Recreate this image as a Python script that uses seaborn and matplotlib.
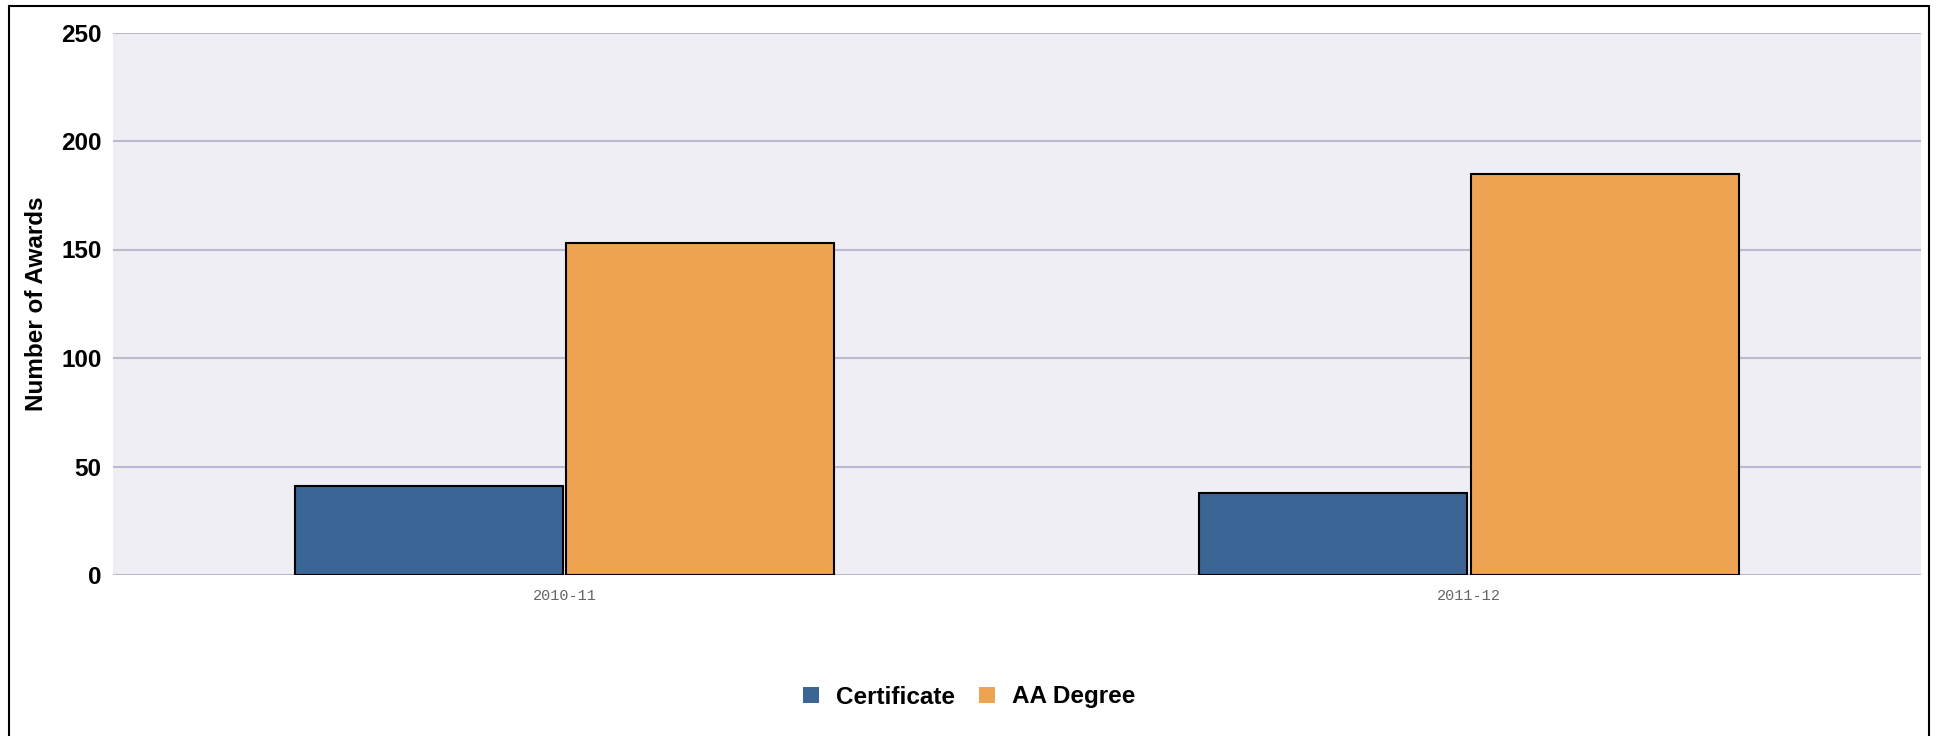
import matplotlib
matplotlib.use("Agg")
import matplotlib.pyplot as plt
from matplotlib.lines import Line2D
from matplotlib.patches import Rectangle
import seaborn as sns
import pandas as pd

# values
years = ["2010-11", "2011-12"]
award_types = ["Certificate", "AA Degree"]
certificate = [41, 38]
aa_degree = [153, 185]
y_ticks = [0, 50, 100, 150, 200, 250]

colors = {"Certificate": "#3A6595", "AA Degree": "#EEA353"}

df = pd.DataFrame({
    "Year": years * 2,
    "Type": ["Certificate"] * len(years) + ["AA Degree"] * len(years),
    "Awards": certificate + aa_degree,
})

sns.set_style("darkgrid", {"axes.facecolor": "#EFEEF4", "grid.color": "#B9B9CF",
                           "text.color": "black"})
plt.rcParams["font.family"] = ["Liberation Sans", "DejaVu Sans"]

fig = plt.figure(figsize=(19.37, 7.36), dpi=100)
ax = fig.add_axes([112.7 / 1937, 1 - 575 / 736, (1921 - 112.7) / 1937, (575 - 32.5) / 736])

sns.barplot(data=df, x="Year", y="Awards", hue="Type", hue_order=award_types,
            palette=colors, width=0.6, gap=0.012, edgecolor="black", linewidth=1.5,
            saturation=1, legend=False, ax=ax, zorder=3)

ax.set_xlim(-0.5, 1.5)
ax.set_ylim(0, 250)
ax.set_yticks(y_ticks)
ax.grid(axis="y", linewidth=1.5)
ax.grid(axis="x", visible=False)
for sp in ax.spines.values():
    sp.set_visible(False)

ax.tick_params(axis="y", length=0, pad=8, labelsize=17.5, labelcolor="black")
for lab in ax.get_yticklabels():
    lab.set_fontweight("bold")
ax.tick_params(axis="x", length=0, pad=10)
for lab in ax.get_xticklabels():
    lab.set_fontfamily("Liberation Mono")
    lab.set_fontsize(11)
    lab.set_color("#666666")

ax.set_xlabel("")
ax.set_ylabel("Number of Awards", fontsize=17.5, fontweight="bold", color="black")
ax.yaxis.set_label_coords(-0.0357, 0.5)

handles = [Line2D([], [], linestyle="none", marker="s", markersize=12,
                  markerfacecolor=colors[t], markeredgewidth=0) for t in award_types]
leg = fig.legend(handles, award_types, loc="center", bbox_to_anchor=(0.5, 1 - 697 / 736),
                 ncol=2, frameon=False, handlelength=0.75, handletextpad=0.65,
                 columnspacing=0.95, prop={"size": 17.5, "weight": "bold"})
for t in leg.get_texts():
    t.set_color("black")

# outer frame around the chart
fig.patches.append(Rectangle((9 / 1937, -0.02), 1920 / 1937, 1.02 - 6 / 736,
                             transform=fig.transFigure, fill=False,
                             edgecolor="black", linewidth=1.5))

fig.savefig("out.png", dpi=100)
plt.close(fig)
